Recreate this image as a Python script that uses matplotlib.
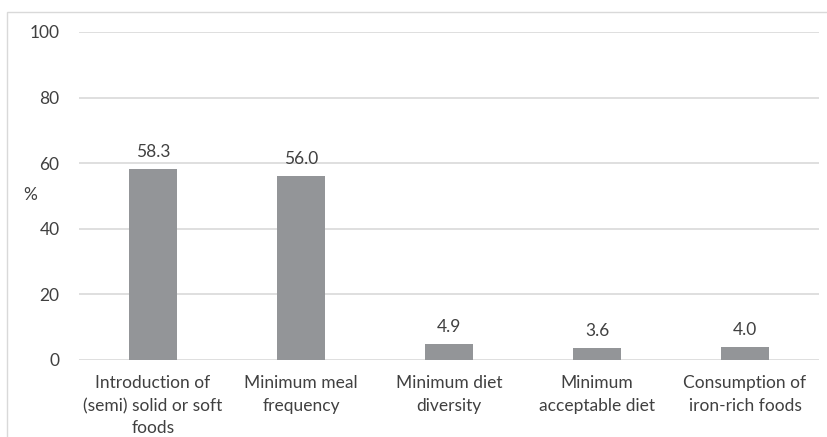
import matplotlib
matplotlib.use("Agg")
import matplotlib.pyplot as plt
from matplotlib.patches import Rectangle

categories = ["Introduction of\n(semi) solid or soft\nfoods", "Minimum meal\nfrequency",
              "Minimum diet\ndiversity", "Minimum\nacceptable diet", "Consumption of\niron-rich foods"]
values = [58.3, 56.0, 4.9, 3.6, 4.0]
yticks = [0, 20, 40, 60, 80, 100]

plt.rcParams['font.family'] = ['Lato', 'DejaVu Sans']
text_col = "#404040"
fs = 12.5

fig = plt.figure(figsize=(8.27, 4.37), dpi=100)
W, H = 827, 437
ax = fig.add_axes([79 / W, 1 - 360 / H, 740 / W, 328 / H])

x = list(range(len(categories)))
bars = ax.bar(x, values, width=0.32, color="#939598", zorder=3)
for xi, v in zip(x, values):
    ax.text(xi, v + 2.7, f"{v:.1f}", ha="center", va="bottom", fontsize=fs, color=text_col)

ax.set_xlim(-0.5, len(categories) - 0.5)
ax.set_ylim(0, 100)
ax.set_yticks(yticks)
ax.set_yticklabels([str(t) for t in yticks], fontsize=fs, color=text_col)
ax.set_xticks(x)
ax.set_xticklabels(categories, fontsize=fs, color=text_col, linespacing=1.5)
ax.tick_params(length=0, pad=11)
ax.tick_params(axis="y", pad=14)
ax.grid(axis="y", color="#d9d9d9", linewidth=1.2, zorder=0)
for s in ax.spines.values():
    s.set_visible(False)

fig.text(30 / W, 1 - 195 / H, "%", fontsize=fs, color=text_col, ha="center", va="center")

# outer frame of the chart area
fig.patches.append(Rectangle((7 / W, -0.1), 1.2, 1 - 12 / H + 0.1, transform=fig.transFigure,
                             fill=False, edgecolor="#d9d9d9", linewidth=1.0))

fig.savefig("out.png", dpi=100)
